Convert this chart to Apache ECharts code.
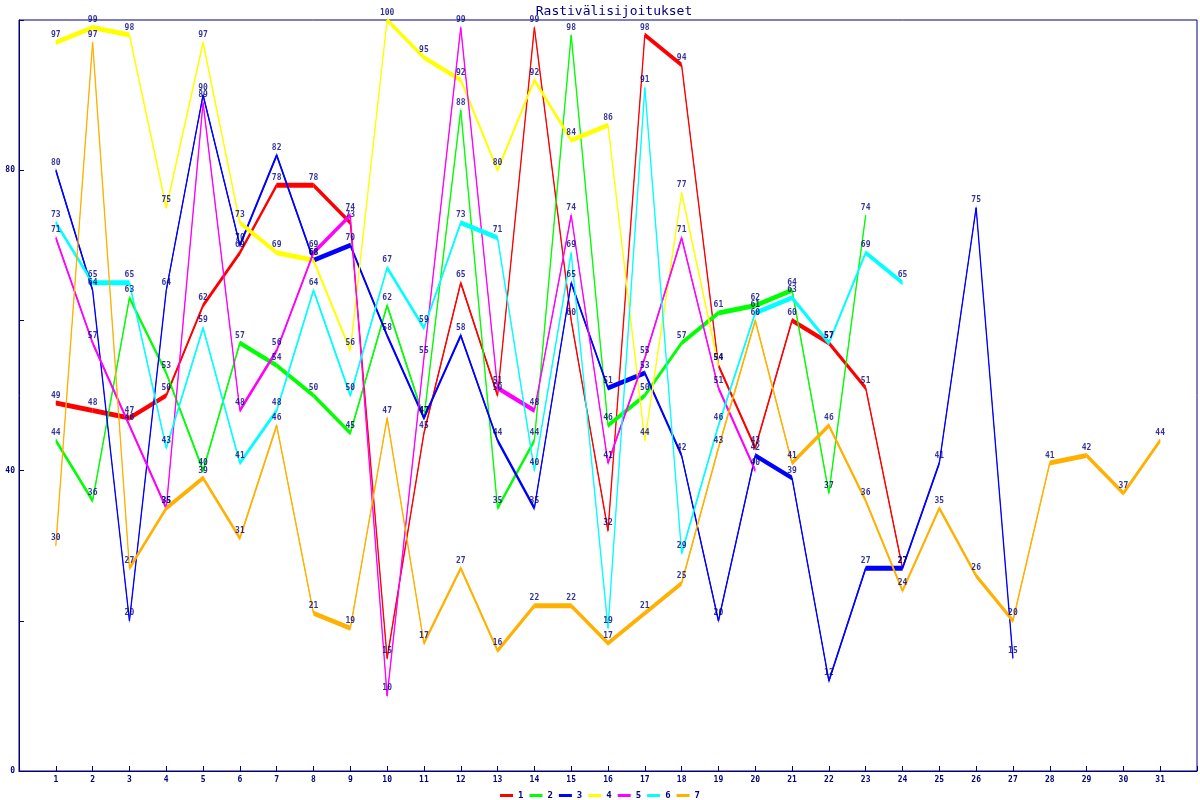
<!DOCTYPE html>
<html>
<head>
<meta charset="utf-8">
<script src="https://cdn.jsdelivr.net/npm/echarts@6/dist/echarts.min.js"></script>
<style>html,body{margin:0;padding:0;background:#fff}#c{width:1200px;height:800px}</style>
</head>
<body>
<div id="c"></div>
<script>
const title = 'Rastivälisijoitukset';
const categories = [1,2,3,4,5,6,7,8,9,10,11,12,13,14,15,16,17,18,19,20,21,22,23,24,25,26,27,28,29,30,31];
const seriesNames = ['1','2','3','4','5','6','7'];
const s1 = [49,48,47,50,62,69,78,78,73,15,45,65,50,99,60,32,98,94,54,43,60,57,51,27];
const s2 = [44,36,63,53,40,57,54,50,45,62,47,88,35,44,98,46,50,57,61,62,64,37,74];
const s3 = [80,64,20,64,90,70,82,68,70,58,47,58,44,35,65,51,53,42,20,42,39,12,27,27,41,75,15];
const s4 = [97,99,98,75,97,73,69,68,56,100,95,92,80,92,84,86,44,77,54];
const s5 = [71,57,46,35,89,48,56,69,74,10,55,99,51,48,74,41,55,71,51,40];
const s6 = [73,65,65,43,59,41,48,64,50,67,59,73,71,40,69,19,91,29,46,61,63,57,69,65];
const s7 = [30,97,27,35,39,31,46,21,19,47,17,27,16,22,22,17,21,25,43,60,41,46,36,24,35,26,20,41,42,37,44];
const yTickLabels = [0,40,80];

const allValues = [s1,s2,s3,s4,s5,s6,s7];
const colors = ['#ff0000','#00ff00','#0000ff','#ffff00','#ff00ff','#00ffff','#ffb000'];
const NAVY = '#000080';
const FONT = '"DejaVu Sans Mono", monospace';
const BAND = 5;

function renderSeg(params, api) {
  const a = api.coord([api.value(0), api.value(1)]);
  const b = api.coord([api.value(2), api.value(3)]);
  const h = BAND / 2;
  const color = api.visual('color');
  return {
    type: 'group',
    children: [
      { type: 'polygon', shape: { points: [[a[0], a[1]-h],[b[0], b[1]-h],[b[0], b[1]+h],[a[0], a[1]+h]] }, style: { fill: color } },
      { type: 'line', shape: { x1: a[0], y1: a[1], x2: b[0], y2: b[1] }, style: { stroke: color, lineWidth: 1.3 } }
    ]
  };
}

const series = [];
allValues.forEach((vals, k) => {
  const segs = [];
  for (let i = 0; i < vals.length - 1; i++) {
    segs.push([categories[i], vals[i], categories[i+1], vals[i+1]]);
  }
  series.push({
    type: 'custom', name: seriesNames[k], renderItem: renderSeg,
    itemStyle: { color: colors[k] },
    encode: { x: [0, 2], y: [1, 3] },
    data: segs, z: 2 + k, silent: true
  });
});
allValues.forEach((vals, k) => {
  series.push({
    type: 'scatter', name: 'lbl' + seriesNames[k],
    data: vals.map((v, i) => [categories[i], v]),
    symbolSize: 1, itemStyle: { color: 'rgba(0,0,0,0)' },
    z: 20, silent: true,
    label: { show: true, position: 'top', distance: 3, formatter: p => String(p.value[1]),
      color: NAVY, fontSize: 8, fontWeight: 'bold', fontFamily: FONT }
  });
});

const chart = echarts.init(document.getElementById('c'), null, { renderer: 'canvas' });
chart.setOption({
  animation: false,
  backgroundColor: '#ffffff',
  title: { text: title, left: 609, textAlign: 'center', top: 0,
    textStyle: { color: NAVY, fontSize: 13, fontWeight: 'normal', fontFamily: FONT } },
  legend: {
    data: seriesNames.map((n, k) => ({ name: n, itemStyle: { color: colors[k] } })),
    icon: 'rect', itemWidth: 13, itemHeight: 3, itemGap: 6,
    left: 'center', top: 786,
    textStyle: { color: NAVY, fontSize: 9, fontWeight: 'bold', fontFamily: FONT }
  },
  grid: { left: 19, right: 1, top: 20, bottom: 29, show: true, borderColor: NAVY, borderWidth: 1, backgroundColor: 'transparent' },
  xAxis: {
    type: 'value', min: 0, max: 32, interval: 1,
    axisLine: { show: true, lineStyle: { color: NAVY, width: 1 } },
    axisTick: { show: true, inside: true, length: 5, lineStyle: { color: NAVY } },
    splitLine: { show: false },
    axisLabel: { color: NAVY, fontSize: 8, fontWeight: 'bold', fontFamily: FONT, margin: 5,
      formatter: v => categories.indexOf(v) >= 0 ? String(v) : '' }
  },
  yAxis: {
    type: 'value', min: 0, max: 100, interval: 20,
    axisLine: { show: true, lineStyle: { color: NAVY, width: 1 } },
    axisTick: { show: true, inside: true, length: 5, lineStyle: { color: NAVY } },
    splitLine: { show: false },
    axisLabel: { color: NAVY, fontSize: 8, fontWeight: 'bold', fontFamily: FONT, margin: 4,
      formatter: v => yTickLabels.indexOf(v) >= 0 ? String(v) : '' }
  },
  series: series
});
</script>
</body>
</html>
